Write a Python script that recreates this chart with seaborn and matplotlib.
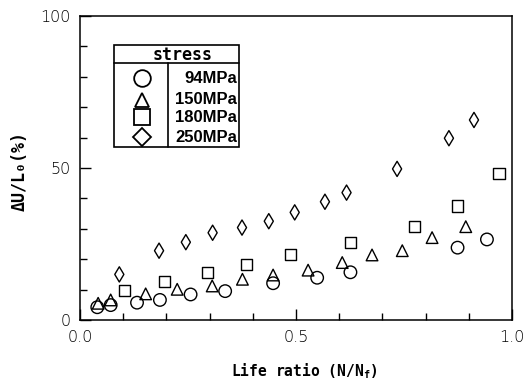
import numpy as np
import pandas as pd
import matplotlib
matplotlib.use("Agg")
import matplotlib.pyplot as plt
import seaborn as sns
from matplotlib.patches import Rectangle
from matplotlib.ticker import MultipleLocator, FixedLocator, FixedFormatter

# ---- data ----
stress_labels = ["94MPa", "150MPa", "180MPa", "250MPa"]
x_94 = [0.040, 0.071, 0.132, 0.185, 0.256, 0.336, 0.447, 0.549, 0.626, 0.874, 0.942]
y_94 = [4.2, 4.9, 5.7, 6.6, 8.4, 9.5, 12.1, 13.9, 15.7, 23.8, 26.5]
x_150 = [0.042, 0.071, 0.152, 0.225, 0.306, 0.376, 0.447, 0.528, 0.607, 0.676, 0.746, 0.815, 0.893]
y_150 = [5.5, 6.6, 8.6, 10.1, 11.2, 13.4, 14.8, 16.4, 18.9, 21.4, 22.8, 27.1, 30.7]
x_180 = [0.102, 0.195, 0.295, 0.386, 0.487, 0.626, 0.774, 0.874, 0.970]
y_180 = [9.8, 12.7, 15.5, 18.3, 21.5, 25.4, 30.9, 37.5, 48.3]
x_250 = [0.091, 0.183, 0.245, 0.307, 0.375, 0.437, 0.497, 0.567, 0.617, 0.734, 0.854, 0.912]
y_250 = [15.0, 22.8, 25.6, 28.7, 30.4, 32.5, 35.4, 38.9, 41.9, 49.7, 59.8, 65.8]

x_ticks = [0.0, 0.5, 1.0]
x_tick_labels = ["0.0", "0.5", "1.0"]
y_ticks = [0, 50, 100]
y_tick_labels = ["0", "50", "100"]

df = pd.DataFrame({
    "ratio": x_94 + x_150 + x_180 + x_250,
    "dU": y_94 + y_150 + y_180 + y_250,
    "stress": (["94MPa"] * len(x_94) + ["150MPa"] * len(x_150)
               + ["180MPa"] * len(x_180) + ["250MPa"] * len(x_250)),
})

markers = {"94MPa": "o", "150MPa": "^", "180MPa": "s", "250MPa": "d"}
sizes = {"94MPa": 81, "150MPa": 70, "180MPa": 64, "250MPa": 60}

sns.set_style("ticks")
plt.rcParams["font.family"] = ["DejaVu Sans"]
plt.rcParams["text.color"] = "black"
plt.rcParams["axes.labelcolor"] = "black"
plt.rcParams["xtick.color"] = "black"
plt.rcParams["ytick.color"] = "black"

fig = plt.figure(figsize=(5.25, 3.86), dpi=100)
ax = fig.add_axes([80 / 525, 66 / 386, 432 / 525, 304 / 386])

for lab in stress_labels:
    sub = df[df["stress"] == lab]
    sns.scatterplot(data=sub, x="ratio", y="dU", marker=markers[lab], s=sizes[lab],
                    facecolor="none", edgecolor="black", linewidth=1.0,
                    ax=ax, legend=False, zorder=3, clip_on=False)

ax.set_xlim(0, 1.0)
ax.set_ylim(0, 100)
ax.xaxis.set_major_locator(FixedLocator(x_ticks))
ax.xaxis.set_major_formatter(FixedFormatter(x_tick_labels))
ax.yaxis.set_major_locator(FixedLocator(y_ticks))
ax.yaxis.set_major_formatter(FixedFormatter(y_tick_labels))
ax.xaxis.set_minor_locator(MultipleLocator(0.1))
ax.yaxis.set_minor_locator(MultipleLocator(10))
ax.tick_params(which="major", direction="in", length=8, width=1.0, labelsize=11.5, pad=7,
               colors="black")
ax.tick_params(which="minor", direction="in", length=5, width=1.0)
ax.tick_params(axis="y", which="major", pad=7)
for t in ax.get_xticklabels() + ax.get_yticklabels():
    t.set_fontweight("light")
for sp in ax.spines.values():
    sp.set_linewidth(1.1)
    sp.set_color("black")
    sp.set_visible(True)

ax.set_xlabel(r"Life ratio (N/N$_\mathregular{f}$)", fontfamily="DejaVu Sans Mono",
              fontweight="bold", fontsize=10.5)
ax.xaxis.set_label_coords(0.519, -0.135)
ax.set_ylabel("ΔU/L₀(%)", fontfamily=["DejaVu Sans Mono", "DejaVu Sans"],
              fontweight="bold", fontsize=12)
ax.yaxis.set_label_coords(-0.118, 0.49)

# ---- legend table ----
T = ax.transAxes
bx0, bx1, by0, by1 = 0.079, 0.369, 0.568, 0.905
hy, dx = 0.844, 0.203
ax.add_patch(Rectangle((bx0, by0), bx1 - bx0, by1 - by0, transform=T,
                       facecolor="white", edgecolor="black", lw=1.2, zorder=5))
ax.plot([bx0, bx1], [hy, hy], transform=T, color="black", lw=1.2, zorder=6)
ax.plot([dx, dx], [by0, hy], transform=T, color="black", lw=1.2, zorder=6)
ax.text(0.238, 0.872, "stress", transform=T, ha="center", va="center",
        fontfamily="DejaVu Sans Mono", fontweight="bold", fontsize=12, zorder=7)
leg_marker = {"94MPa": ("o", 12), "150MPa": ("^", 10.5), "180MPa": ("s", 11), "250MPa": ("D", 9.5)}
row_y = [0.795, 0.724, 0.667, 0.601]
for lab, ry in zip(stress_labels, row_y):
    m, ms = leg_marker[lab]
    ax.plot([0.143], [ry], transform=T, marker=m, ms=ms, mfc="none", mec="black",
            mew=1.3, linestyle="none", zorder=7, clip_on=False)
    ax.text(0.363, ry, lab, transform=T, ha="right", va="center",
            fontfamily="Liberation Sans", fontweight="bold", fontsize=12, zorder=7)

fig.savefig("out.png", dpi=100, facecolor="white")
